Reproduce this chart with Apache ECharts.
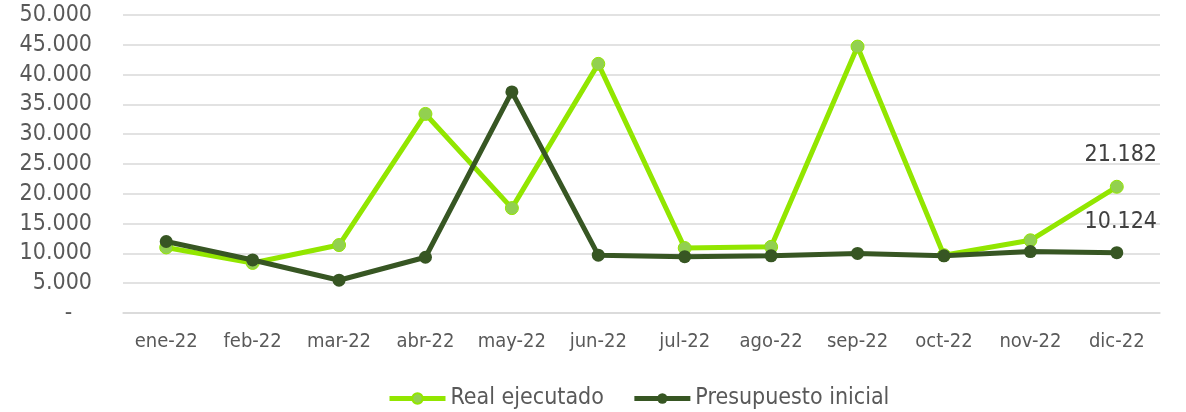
<!DOCTYPE html>
<html>
<head>
<meta charset="utf-8">
<script src="https://cdn.jsdelivr.net/npm/echarts@6/dist/echarts.min.js"></script>
<style>
  html, body { margin: 0; padding: 0; background: #fff; }
  #chart { width: 1186px; height: 412px; }
</style>
</head>
<body>
<div id="chart"></div>
<script>
  // meses
  const months = ['ene-22', 'feb-22', 'mar-22', 'abr-22', 'may-22', 'jun-22', 'jul-22', 'ago-22', 'sep-22', 'oct-22', 'nov-22', 'dic-22']
  const realEjecutado = [11000, 8400, 11400, 33400, 17600, 41800, 10900, 11100, 44700, 9700, 12200, 21182]
  const presupuestoInicial = [12000, 8900, 5500, 9350, 37100, 9700, 9450, 9600, 10000, 9600, 10300, 10124]
  const seriesNames = ['Real ejecutado', 'Presupuesto inicial']

  const FONT = "'DejaVu Sans Condensed', 'DejaVu Sans', sans-serif"

  function fmt(v) {
    if (v === 0) return '-   '
    return String(Math.round(v)).replace(/\B(?=(\d{3})+(?!\d))/g, '.')
  }

  // solo el último punto lleva etiqueta
  function withLastLabel(arr) {
    return arr.map((v, i) => i === arr.length - 1
      ? { value: v, label: { show: true } }
      : v)
  }

  const chart = echarts.init(document.getElementById('chart'), null, { renderer: 'canvas' })
  chart.setOption({
    animation: false,
    grid: { left: 123, right: 26, top: 15, bottom: 99 },
    legend: {
      data: seriesNames,
      top: 382,
      left: 382,
      itemWidth: 56,
      itemHeight: 13,
      itemGap: 28,
      lineStyle: { width: 5 },
      textStyle: { color: '#595959', fontSize: 23, fontFamily: FONT }
    },
    xAxis: {
      type: 'category',
      data: months,
      boundaryGap: true,
      axisLine: { show: true, lineStyle: { color: '#d9d9d9', width: 1.5 } },
      axisTick: { show: false },
      axisLabel: { color: '#595959', fontSize: 20, fontFamily: FONT, margin: 19, interval: 0 }
    },
    yAxis: {
      type: 'value',
      min: 0,
      max: 50000,
      interval: 5000,
      axisLine: { show: false },
      axisTick: { show: false },
      splitLine: { lineStyle: { color: '#d9d9d9', width: 1.5 } },
      axisLabel: { color: '#595959', fontSize: 23, fontFamily: FONT, margin: 31, formatter: fmt }
    },
    series: [
      {
        name: seriesNames[0],
        type: 'line',
        data: withLastLabel(realEjecutado),
        symbol: 'circle',
        symbolSize: 13,
        lineStyle: { color: '#92e600', width: 5 },
        itemStyle: { color: '#92d050', borderColor: '#92e600', borderWidth: 1 },
        label: {
          show: false,
          position: 'top',
          distance: 13,
          offset: [4, 0],
          color: '#404040',
          fontSize: 23,
          fontFamily: FONT,
          formatter: p => fmt(p.value)
        },
        z: 2
      },
      {
        name: seriesNames[1],
        type: 'line',
        data: withLastLabel(presupuestoInicial),
        symbol: 'circle',
        symbolSize: 13,
        lineStyle: { color: '#375623', width: 5 },
        itemStyle: { color: '#375623' },
        label: {
          show: false,
          position: 'top',
          distance: 13,
          offset: [4, 0],
          color: '#404040',
          fontSize: 23,
          fontFamily: FONT,
          formatter: p => fmt(p.value)
        },
        z: 3
      }
    ]
  })
</script>
</body>
</html>
